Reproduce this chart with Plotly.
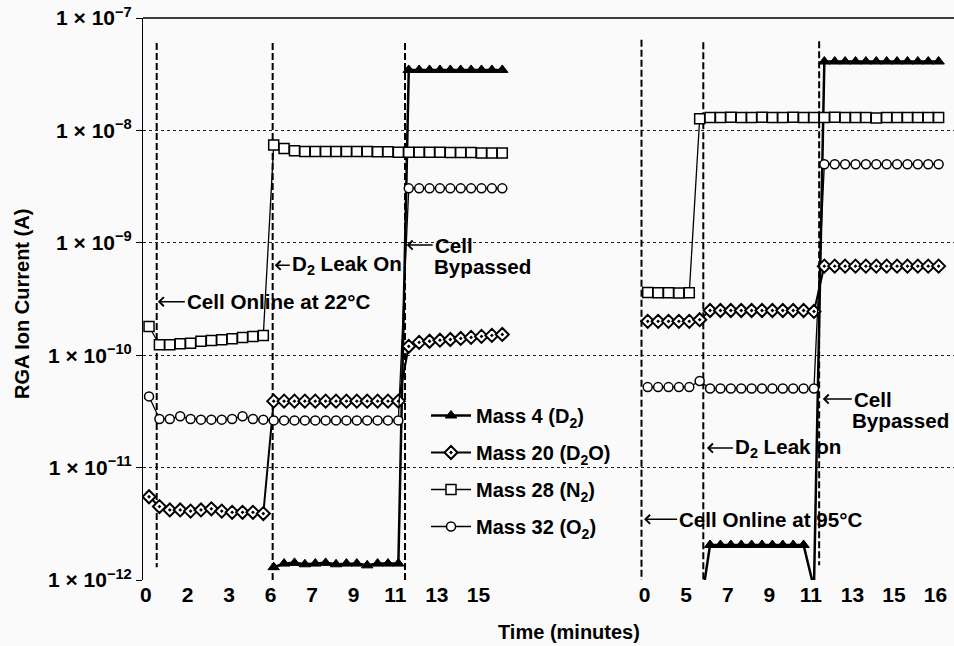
import math
import plotly.graph_objects as go

# ---- sample (category) indices for the two runs ----
run1_idx = list(range(0, 35))      # run at 22 °C
run2_idx = list(range(48, 77))     # run at 95 °C

# ---- series values (A), None = not plotted ----
d2_run1 = [None] * 12 + [1.30e-12, 1.40e-12, 1.42e-12, 1.38e-12, 1.40e-12, 1.42e-12, 1.38e-12,
                         1.40e-12, 1.40e-12, 1.35e-12, 1.40e-12, 1.40e-12, 1.40e-12] + [3.45e-8] * 10
d2_run2 = [None] * 5 + [5e-13] + [2.05e-12] * 10 + [8.5e-13] + [4.1e-8] * 12

d2o_run1 = [5.5e-12, 4.5e-12, 4.2e-12, 4.2e-12, 4.1e-12, 4.2e-12, 4.3e-12, 4.1e-12, 4.0e-12, 4.0e-12,
            4.0e-12, 3.9e-12] + [3.9e-11] * 13 + [1.20e-10, 1.30e-10, 1.33e-10, 1.36e-10, 1.38e-10,
                                                  1.41e-10, 1.44e-10, 1.47e-10, 1.50e-10, 1.53e-10]
d2o_run2 = [2.0e-10] * 5 + [2.07e-10] + [2.5e-10] * 10 + [2.45e-10] + [6.2e-10] * 12

n2_run1 = [1.80e-10, 1.24e-10, 1.24e-10, 1.265e-10, 1.28e-10, 1.33e-10, 1.35e-10, 1.37e-10,
           1.40e-10, 1.44e-10, 1.47e-10, 1.50e-10,
           7.4e-9, 6.9e-9, 6.6e-9, 6.5e-9, 6.5e-9, 6.5e-9, 6.5e-9, 6.5e-9, 6.5e-9, 6.5e-9,
           6.45e-9, 6.45e-9, 6.4e-9, 6.4e-9, 6.4e-9, 6.4e-9, 6.4e-9, 6.35e-9, 6.35e-9, 6.35e-9,
           6.3e-9, 6.3e-9, 6.3e-9]
n2_run2 = [3.62e-10, 3.6e-10, 3.6e-10, 3.58e-10, 3.6e-10,
           1.27e-8, 1.30e-8, 1.30e-8, 1.31e-8, 1.30e-8, 1.30e-8, 1.31e-8, 1.30e-8, 1.30e-8,
           1.31e-8, 1.30e-8, 1.30e-8, 1.30e-8, 1.31e-8, 1.30e-8, 1.30e-8, 1.30e-8, 1.29e-8,
           1.30e-8, 1.30e-8, 1.30e-8, 1.30e-8, 1.30e-8, 1.30e-8]

o2_run1 = [4.3e-11, 2.71e-11, 2.71e-11, 2.86e-11, 2.71e-11, 2.67e-11, 2.67e-11, 2.67e-11, 2.71e-11,
           2.86e-11, 2.71e-11, 2.67e-11] + [2.63e-11] * 13 + [3.05e-9] * 10
o2_run2 = [5.2e-11] * 5 + [5.9e-11] + [5.05e-11] * 11 + [5.0e-9] * 12

# ---- x tick labels (minutes) at sample indices ----
tick_idx = [0, 4, 8, 12, 16, 20, 24, 28, 32, 48, 52, 56, 60, 64, 68, 72, 76]
tick_txt = ["0", "2", "3", "6", "7", "9", "11", "13", "15",
            "0", "5", "7", "9", "11", "13", "15", "16"]

# ---- y ticks ----
y_exp = [-12, -11, -10, -9, -8, -7]

# ---- event markers (dashed verticals) ----
event_idx = [0.74, 11.9, 24.64, 47.4, 53.35, 64.5]
event_top = [6.0e-8, 6.0e-8, 6.0e-8, 6.4e-8, 6.1e-8, 6.2e-8]
event_bot = [1.3e-12, 1.0e-12, 1.0e-12, 1.0e-12, 1.0e-12, 1.35e-12]

FONT = "Liberation Sans, Arial, Helvetica, sans-serif"
BG = "#fafafa"


def join(a, b):
    return a + [None] + b


fig = go.Figure()

# event lines
ex, ey = [], []
for xv, t, b in zip(event_idx, event_top, event_bot):
    ex += [xv, xv, None]
    ey += [t, b, None]
fig.add_trace(go.Scatter(x=ex, y=ey, mode="lines", showlegend=False, hoverinfo="skip",
                         line=dict(color="black", width=2, dash="7px,3px")))

xs = join(run1_idx, run2_idx)

fig.add_trace(go.Scatter(
    x=xs, y=join(d2_run1, d2_run2), mode="lines+markers", name="Mass 4 (D<sub>2</sub>)",
    legendgroup="a",
    line=dict(color="black", width=2.5),
    marker=dict(symbol="triangle-up", size=10, color="black", line=dict(color="black", width=1))))
fig.add_trace(go.Scatter(
    x=xs, y=join(d2o_run1, d2o_run2), mode="lines+markers", name="Mass 20 (D<sub>2</sub>O)",
    legendgroup="b",
    line=dict(color="black", width=2),
    marker=dict(symbol="diamond-dot", size=10, color="white", line=dict(color="black", width=2))))
fig.add_trace(go.Scatter(
    x=xs, y=join(n2_run1, n2_run2), mode="lines+markers", name="Mass 28 (N<sub>2</sub>)",
    legendgroup="c",
    line=dict(color="black", width=1.3),
    marker=dict(symbol="square", size=10, color="white", line=dict(color="black", width=1.5))))
fig.add_trace(go.Scatter(
    x=xs, y=join(o2_run1, o2_run2), mode="lines+markers", name="Mass 32 (O<sub>2</sub>)",
    legendgroup="d",
    line=dict(color="black", width=1.3),
    marker=dict(symbol="circle", size=9, color="white", line=dict(color="black", width=1.5))))

afont = dict(family=FONT, size=20.6, color="black", weight="bold")


def arrow_note(text, xi, logy, ax):
    fig.add_annotation(x=xi, y=logy, xref="x", yref="y", text=text, showarrow=True,
                       ax=ax, ay=0, xanchor="left", yanchor="middle", arrowhead=4,
                       arrowsize=1.1, arrowwidth=1.6, arrowcolor="black", standoff=0,
                       font=afont)


def plain_note(text, xi, logy):
    fig.add_annotation(x=xi, y=logy, xref="x", yref="y", text=text, showarrow=False,
                       xanchor="left", yanchor="middle", font=afont)


arrow_note("Cell Online at 22°C", 0.85, -9.524, 27)
arrow_note("D<sub>2</sub> Leak On", 12.1, -9.20, 15)
arrow_note("Cell", 24.8, -9.02, 26)
plain_note("Bypassed", 27.25, -9.215)
arrow_note("Cell", 64.85, -10.39, 29)
plain_note("Bypassed", 67.45, -10.585)
arrow_note("D<sub>2</sub> Leak on", 53.7, -10.826, 26)
arrow_note("Cell Online at 95°C", 47.65, -11.46, 33)

L, R, T, B = 143, 0, 18, 66
W, H = 954, 646
pw, ph = W - L - R, H - T - B

# axis titles (positions given in page pixels, converted to paper coords)
fig.add_annotation(x=(569 - L) / pw, y=(H - B - 632) / ph, xref="paper", yref="paper",
                   text="Time (minutes)", showarrow=False,
                   font=dict(family=FONT, size=20, color="black", weight="bold"),
                   xanchor="center", yanchor="middle")
fig.add_annotation(x=(22 - L) / pw, y=(H - B - 304) / ph, xref="paper", yref="paper",
                   text="RGA Ion Current (A)", showarrow=False,
                   font=dict(family=FONT, size=20, color="black", weight="bold"), textangle=-90,
                   xanchor="center", yanchor="middle")

fig.add_shape(type="line", xref="paper", yref="paper", x0=0, x1=1, y0=1, y1=1,
              line=dict(color="black", width=1.5))

tfont = dict(family=FONT, size=21, color="black", weight="bold")

fig.update_layout(
    width=W, height=H,
    margin=dict(l=L, r=R, t=T, b=B),
    paper_bgcolor=BG, plot_bgcolor=BG,
    font=dict(family=FONT, size=20, color="black"),
    showlegend=True,
    legend=dict(x=(426 - L) / pw, y=(H - B - 396) / ph, xanchor="left", yanchor="top",
                bgcolor="rgba(0,0,0,0)", tracegroupgap=8, itemwidth=40,
                font=dict(family=FONT, size=20, color="black", weight="bold")),
    xaxis=dict(range=[-0.58, 77.48], showgrid=False, zeroline=False, showline=False,
               tickvals=[t - 0.3 for t in tick_idx], ticktext=tick_txt, ticks="",
               tickfont=tfont),
    yaxis=dict(type="log", range=[-12, -7], showgrid=True, griddash="dot",
               gridcolor="#222", gridwidth=1.2, zeroline=False,
               showline=True, linecolor="black", linewidth=1,
               ticks="outside", ticklen=6, tickcolor="black",
               tickvals=[10.0 ** e for e in y_exp],
               ticktext=[f"1 × 10<sup>−{-e}</sup>" for e in y_exp],
               tickfont=tfont),
)

fig.write_html("out.html", config={"displayModeBar": False},
               post_script="document.body.style.margin='0';document.body.style.overflow='hidden';")
